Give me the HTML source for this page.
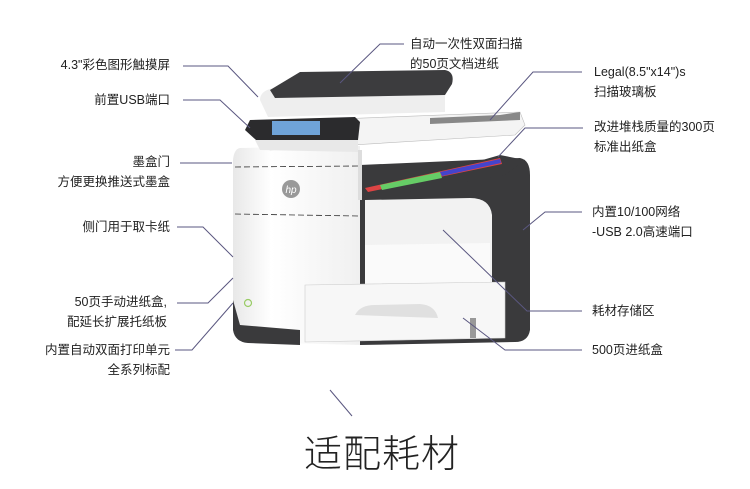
<!DOCTYPE html>
<html><head><meta charset="utf-8"><style>
body{margin:0;width:750px;height:489px;background:#fff;overflow:hidden;font-family:"Liberation Sans","Noto Sans CJK SC",sans-serif;}
.t{position:absolute;font-size:12.5px;color:#222;line-height:20px;white-space:nowrap}
.r{text-align:right}
</style></head><body>
<svg width="750" height="489" style="position:absolute;left:0;top:0">
<defs>
<linearGradient id="g1" x1="0" x2="1"><stop offset="0" stop-color="#e8e8e8"/><stop offset="0.3" stop-color="#fff"/><stop offset="1" stop-color="#f0f0f0"/></linearGradient>
</defs>
<path d="M360 165 L520 158 Q530 160 530 175 L530 330 Q528 342 515 342 L360 345 Z" fill="#3a3a3c"/>
<path d="M365 200 L470 198 Q490 198 492 215 L492 300 L365 302 Z" fill="#f2f2f2"/>
<path d="M365 245 L490 243 L490 290 L365 292 Z" fill="#fafafa"/>
<path d="M240 148 L360 146 L360 345 L245 342 Q233 340 233 325 L233 160 Q234 149 240 148 Z" fill="url(#g1)"/>
<path d="M233 300 L233 330 Q235 342 248 343 L300 345 L300 330 L240 325 Z" fill="#3a3a3c"/>
<path d="M305 285 L505 282 L505 338 L305 342 Z" fill="#f7f7f7" stroke="#ccc" stroke-width="0.6"/>
<path d="M355 315 Q360 305 375 305 L420 304 Q435 305 438 318 Z" fill="#e0e0e0"/>
<rect x="470" y="318" width="6" height="20" fill="#999"/>
<line x1="235" y1="167" x2="358" y2="166" stroke="#333" stroke-dasharray="6,3" stroke-width="0.8"/>
<line x1="235" y1="214" x2="358" y2="216" stroke="#333" stroke-dasharray="6,3" stroke-width="0.8"/>
<circle cx="291" cy="189" r="9" fill="#999"/>
<text x="291" y="193" font-size="10" fill="#fff" text-anchor="middle" font-style="italic">hp</text>
<circle cx="248" cy="303" r="3.5" fill="none" stroke="#9c6" stroke-width="1.2"/>
<path d="M360 195 L500 155 L525 160 L505 175 L362 200 Z" fill="#3a3a3c"/>
<path d="M365 188 L500 158 L502 164 L368 192 Z" fill="#d44"/>
<path d="M380 185 L440 172 L442 178 L382 190 Z" fill="#6c6"/>
<path d="M440 172 L500 159 L501 163 L442 176 Z" fill="#44c"/>
<path d="M358 150 L358 200 L362 200 L362 150 Z" fill="#ddd"/>
<path d="M260 100 Q260 90 275 88 L445 90 L445 112 L268 117 Z" fill="#eee"/>
<path d="M270 90 L300 72 L445 70 Q455 72 452 84 L445 95 L275 98 Z" fill="#3c3c3e"/>
<path d="M255 130 L260 122 L520 112 L525 125 L515 135 L270 150 Z" fill="#f4f4f4" stroke="#bbb" stroke-width="0.6"/>
<path d="M430 118 L500 115 L520 112 L520 120 L430 124 Z" fill="#888"/>
<path d="M245 130 L250 120 L355 117 L360 122 L358 140 L256 140 Z" fill="#2b2b2d"/>
<rect x="272" y="121" width="48" height="14" fill="#6fa3d8"/>
<path d="M255 140 L358 140 L358 152 L260 150 Z" fill="#e8e8e8"/>
<g stroke="#5a5780" stroke-width="1" fill="none">
<polyline points="183,66 228,66 258,97"/>
<polyline points="183,100 220,100 250,128"/>
<polyline points="180,163 232,163"/>
<polyline points="177,227 203,227 233,257"/>
<polyline points="177,303 208,303 233,278"/>
<polyline points="175,350 192,350 233,303"/>
<polyline points="404,44 380,44 340,83"/>
<polyline points="582,72 533,72 490,120"/>
<polyline points="583,128 525,128 498,157"/>
<polyline points="582,212 545,212 523,230"/>
<polyline points="582,311 527,311 443,230"/>
<polyline points="582,350 505,350 463,318"/>
<polyline points="330,390 352,416"/>
</g>
</svg>
<div class="t r" style="right:580px;top:55px">4.3"彩色图形触摸屏</div>
<div class="t r" style="right:580px;top:90px">前置USB端口</div>
<div class="t r" style="right:580px;top:152px">墨盒门<br>方便更换推送式墨盒</div>
<div class="t r" style="right:580px;top:217px">侧门用于取卡纸</div>
<div class="t r" style="right:583px;top:292px">50页手动进纸盒,<br>配延长扩展托纸板</div>
<div class="t r" style="right:580px;top:340px">内置自动双面打印单元<br>全系列标配</div>
<div class="t" style="left:410px;top:34px">自动一次性双面扫描<br>的50页文档进纸</div>
<div class="t" style="left:594px;top:62px">Legal(8.5"x14")s<br>扫描玻璃板</div>
<div class="t" style="left:594px;top:117px">改进堆栈质量的300页<br>标准出纸盒</div>
<div class="t" style="left:592px;top:202px">内置10/100网络<br>-USB 2.0高速端口</div>
<div class="t" style="left:592px;top:301px">耗材存储区</div>
<div class="t" style="left:592px;top:340px">500页进纸盒</div>
<div class="t" style="left:304px;top:432px;font-size:38px;line-height:46px;font-weight:300;color:#222;letter-spacing:1px">适配耗材</div>
</body></html>
